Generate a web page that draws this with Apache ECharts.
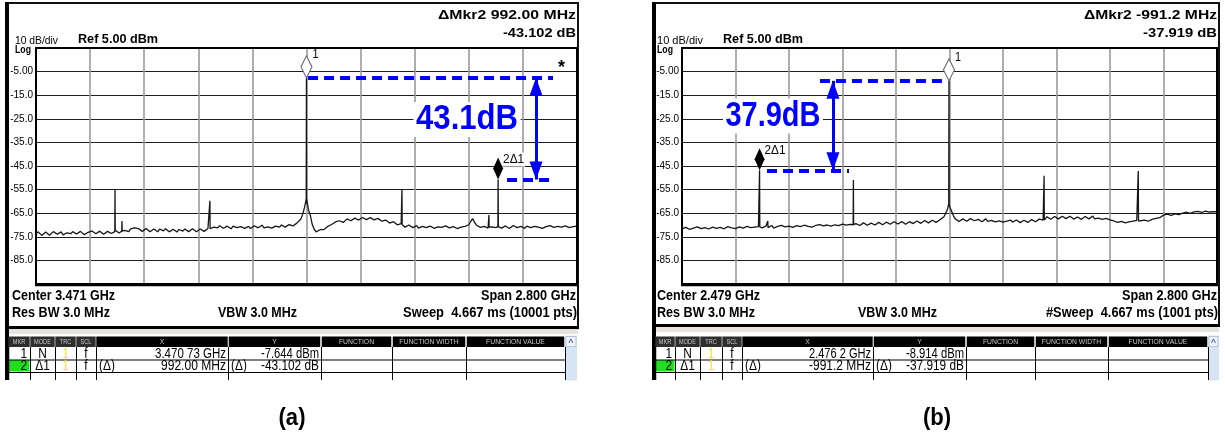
<!DOCTYPE html>
<html>
<head>
<meta charset="utf-8">
<title>Spectrum analyzer captures</title>
<script src="https://cdn.jsdelivr.net/npm/echarts@6/dist/echarts.min.js"></script>
<style>
html,body{margin:0;padding:0;background:#fff;}
#chart{width:1225px;height:447px;}
</style>
</head>
<body>
<div id="chart"></div>
<script>
// ---------- instrument settings ----------
const REF_LEVEL = 5;          // dBm, top graticule line
const SPAN_GHZ = 2.8;
const STEP_GHZ = 0.01;        // spacing of the sampled noise floor

// ---------- trace (a): center 3.471 GHz ----------
const centerA = 3.471;
const floorA = [
  -73.8,-72.9,-73.2,-74.4,-74.1,-73.0,-73.5,-74.3,-73.9,-72.8,-73.0,-73.9,-73.6,-72.9,-74.2,-73.4,-73.3,-74.0,-73.7,-72.8,
  -72.9,-73.8,-73.6,-72.7,-73.2,-74.1,-74.0,-73.1,-73.4,-72.5,-72.8,-73.7,-73.5,-72.6,-73.1,-73.9,-73.8,-72.7,-72.9,-73.6,
  -73.3,-72.2,-72.6,-73.4,-73.1,-72.0,-72.3,-73.0,-72.8,-71.6,-72.1,-71.2,-70.6,-71.5,-71.8,-72.7,-72.4,-71.5,-72.0,-72.9,
  -72.6,-71.7,-72.2,-72.9,-71.7,-72.4,-72.5,-71.6,-72.0,-72.9,-72.8,-71.8,-72.3,-73.0,-71.9,-72.5,-72.6,-71.7,-72.1,-72.8,
  -72.4,-71.6,-72.3,-72.9,-72.6,-71.7,-72.0,-72.7,-72.4,-71.5,-71.8,-71.0,-70.9,-71.7,-71.2,-70.3,-70.6,-71.4,-71.3,-70.5,
  -70.9,-71.6,-70.5,-70.1,-71.1,-71.7,-70.7,-70.2,-71.4,-70.8,-70.6,-71.5,-71.0,-70.3,-70.4,-71.2,-70.9,-70.1,-71.2,-70.6,
  -70.8,-70.2,-71.3,-70.6,-70.5,-71.2,-70.9,-70.0,-70.2,-70.9,-70.7,-69.8,-70.1,-70.4,-69.6,-69.2,-68.8,-67.6,-65.5,-62.5,
  -61.0,-63.5,-66.0,-69.8,-71.8,-72.9,-72.6,-72.0,-72.3,-71.9,-71.4,-70.6,-70.3,-69.8,-69.6,-68.7,-68.9,-68.2,-68.4,-68.9,
  -68.1,-67.4,-67.6,-68.2,-67.9,-67.1,-67.3,-67.9,-67.6,-66.8,-67.0,-67.7,-67.4,-66.9,-67.1,-67.8,-67.6,-67.2,-67.8,-68.4,
  -68.3,-67.9,-68.6,-69.2,-69.0,-68.6,-69.4,-69.9,-69.7,-69.4,-70.3,-70.9,-70.6,-70.0,-70.4,-71.1,-70.9,-70.3,-71.3,-70.7,
  -70.6,-71.4,-71.1,-70.4,-70.5,-71.2,-71.4,-70.6,-70.8,-71.6,-71.0,-70.3,-70.4,-71.1,-71.2,-70.5,-70.7,-71.3,-71.5,-70.8,
  -70.9,-71.5,-70.6,-70.2,-69.9,-68.5,-67.3,-68.9,-70.1,-70.8,-71.0,-70.3,-70.6,-71.4,-71.3,-70.5,-70.8,-71.5,-71.1,-70.4,
  -70.5,-71.3,-71.2,-70.4,-70.7,-71.5,-71.0,-70.2,-70.4,-71.1,-71.3,-70.6,-70.8,-71.4,-70.5,-70.1,-71.1,-71.6,-70.6,-70.2,
  -70.9,-70.3,-71.4,-70.8,-70.7,-70.1,-70.3,-71.1,-71.0,-70.4,-70.6,-71.3,-70.9,-70.2,-70.4,-71.0,-71.1,-70.5,-70.7,-71.2,
  -70.5
];
// discrete tones: [frequency GHz, peak dBm, base dBm]
const spikesA = [
  [2.480, -54.7, -72.8],
  [2.516, -68.3, -72.6],
  [2.971, -59.7, -71.6],
  [3.47073, -7.644, -59.0],
  [3.965, -54.9, -69.9],
  [4.415, -65.8, -70.9],
  [4.46273, -50.746, -70.7]
];
const markerA = [3.47073, -7.644];       // marker 1: freq GHz, level dBm
const deltaA = [0.992, -43.102];         // marker 2 relative to marker 1
const dashA = [[3.479, 4.747], [4.509, 4.757]];   // level guides at marker 1 / marker 2
const arrowA = 4.659;
const noteA = ['43.1dB', 4.302, -25.3];

// ---------- trace (b): center 2.479 GHz ----------
const centerB = 2.479;
const floorB = [
  -71.6,-70.9,-71.0,-71.8,-71.9,-71.1,-71.3,-70.6,-70.8,-71.6,-71.5,-70.8,-71.1,-71.9,-71.7,-70.9,-70.9,-71.7,-71.4,-70.7,
  -71.0,-71.8,-71.6,-70.8,-70.7,-71.5,-71.2,-70.5,-71.5,-71.0,-70.8,-71.6,-71.3,-70.5,-70.6,-71.4,-71.1,-70.4,-70.9,-71.5,
  -70.7,-70.1,-71.2,-70.6,-70.4,-71.1,-70.9,-70.2,-71.3,-70.8,-70.6,-69.9,-70.2,-71.0,-70.8,-70.1,-70.5,-71.2,-71.0,-70.3,
  -70.3,-71.0,-70.7,-69.9,-70.1,-70.8,-70.6,-69.8,-70.9,-70.3,-70.2,-69.6,-69.8,-70.6,-70.4,-69.7,-70.0,-70.8,-70.5,-69.8,
  -69.9,-70.6,-70.3,-69.5,-69.6,-70.4,-70.1,-69.3,-69.7,-70.5,-70.2,-69.4,-69.5,-70.2,-69.9,-69.1,-69.4,-70.1,-69.8,-69.2,
  -69.3,-70.0,-69.7,-68.9,-69.1,-69.9,-69.6,-68.8,-69.0,-69.7,-69.4,-68.6,-68.8,-69.6,-69.3,-68.5,-68.9,-69.7,-69.2,-68.6,
  -68.7,-69.4,-69.1,-68.3,-68.6,-69.3,-68.9,-68.1,-68.4,-69.1,-68.8,-68.0,-68.5,-68.9,-68.2,-67.8,-67.5,-66.6,-65.0,-63.2,
  -62.0,-64.0,-66.0,-67.4,-67.8,-68.5,-68.2,-67.4,-67.6,-68.4,-68.0,-67.3,-67.5,-68.2,-68.3,-67.6,-67.8,-68.6,-68.1,-67.4,
  -68.5,-69.2,-68.0,-67.6,-68.7,-69.3,-68.3,-67.7,-68.8,-69.4,-68.4,-67.8,-67.9,-68.8,-68.6,-67.9,-68.2,-69.0,-68.7,-68.0,
  -68.1,-68.9,-68.5,-67.7,-67.9,-68.6,-68.3,-67.5,-67.7,-67.9,-67.2,-66.5,-66.8,-67.6,-67.3,-66.4,-66.6,-67.4,-67.0,-66.3,
  -66.5,-67.3,-67.1,-66.3,-66.7,-67.5,-67.3,-66.6,-66.8,-67.6,-67.2,-66.4,-66.6,-67.4,-67.0,-66.2,-67.4,-68.0,-67.1,-66.5,
  -67.6,-68.3,-67.2,-66.8,-67.8,-68.5,-68.3,-67.6,-68.9,-69.5,-68.5,-67.9,-69.1,-69.6,-68.7,-68.1,-68.4,-69.0,-68.0,-67.5,
  -68.2,-68.8,-67.9,-67.3,-68.4,-68.9,-67.6,-67.0,-67.2,-67.8,-66.9,-66.3,-65.8,-66.4,-65.4,-64.9,-65.9,-66.3,-65.3,-64.8,
  -65.6,-64.9,-65.0,-65.6,-64.6,-64.1,-65.1,-64.7,-64.4,-63.9,-64.2,-64.8,-64.7,-64.0,-64.1,-64.6,-64.5,-63.8,-64.3,-64.9,
  -64.4
];
const spikesB = [
  [1.4850, -46.833, -70.8],
  [1.528, -68.3, -70.6],
  [1.976, -50.9, -69.9],
  [2.4762, -8.914, -61.0],
  [2.974, -49.1, -67.9],
  [3.467, -47.1, -68.3]
];
const markerB = [2.4762, -8.914];
const deltaB = [-0.9912, -37.919];
const dashB = [[1.801, 2.471], [1.524, 1.953]];
const arrowB = 1.869;
const noteB = ['37.9dB', 1.555, -23.8];

// ---------- helpers ----------
const FONT = '"Liberation Sans", Arial, sans-serif';
const BLUE = '#0000ff';

function buildTrace(floor, center, spikes) {
  const start = center - SPAN_GHZ / 2;
  const pts = floor.map((v, i) => [start + i * STEP_GHZ, v]);
  spikes.forEach(([f, peak, base]) => {
    pts.push([f - 0.0012, base], [f, peak], [f + 0.0012, base]);
  });
  pts.sort((a, b) => a[0] - b[0]);
  return pts.map(([f, v]) => [(f - center) * 1000, v - REF_LEVEL]);
}
const toX = (f, c) => (f - c) * 1000;
const toY = v => v - REF_LEVEL;

function annotations(center, marker, delta, dash, arrowF) {
  const y1 = toY(marker[1]);
  const y2 = toY(marker[1] + delta[1]);
  const dashStyle = { color: BLUE, width: 4, type: [10, 6], cap: 'butt' };
  const arrowEnd = { symbol: 'triangle', symbolSize: [13, 18], symbolOffset: [0, '50%'] };
  return {
    silent: true,
    animation: false,
    label: { show: false },
    symbol: ['none', 'none'],
    data: [
      [{ coord: [toX(dash[0][0], center), y1], lineStyle: dashStyle }, { coord: [toX(dash[0][1], center), y1] }],
      [{ coord: [toX(dash[1][0], center), y2], lineStyle: dashStyle }, { coord: [toX(dash[1][1], center), y2] }],
      [Object.assign({ coord: [toX(arrowF, center), y1], lineStyle: { color: BLUE, width: 3, type: 'solid' } }, arrowEnd),
       Object.assign({ coord: [toX(arrowF, center), y2] }, arrowEnd)]
    ]
  };
}
function markers(center, marker, delta) {
  return {
    silent: true,
    animation: false,
    label: { show: false },
    data: [
      { coord: [toX(marker[0], center), toY(marker[1])], symbol: 'diamond', symbolSize: [11, 22],
        symbolOffset: [0, '-50%'], itemStyle: { color: '#fff', borderColor: '#6a6a6a', borderWidth: 1.2 } },
      { coord: [toX(marker[0] + delta[0], center), toY(marker[1] + delta[1])], symbol: 'diamond', symbolSize: [10, 22],
        symbolOffset: [0, '-50%'], itemStyle: { color: '#000' } }
    ]
  };
}

const grids = [
  { left: 36, top: 48, width: 541, height: 236 },
  { left: 682, top: 48, width: 535, height: 236 }
];

function xAxis(i) {
  return {
    type: 'value', gridIndex: i, min: -1400, max: 1400, interval: 280,
    axisLine: { show: false }, axisTick: { show: false }, axisLabel: { show: false },
    splitLine: { show: true, lineStyle: { color: '#9a9a9a', width: 1.6 } }
  };
}
function yAxis(i) {
  return {
    type: 'value', gridIndex: i, min: -100, max: 0, interval: 10,
    axisLine: { show: false }, axisTick: { show: false },
    axisLabel: {
      show: true, margin: 3, color: '#000', fontSize: 10, fontFamily: FONT,
      formatter: v => {
        const d = Math.round(v + REF_LEVEL);
        if (d > 0 || d < -90) return '';
        return d === -5 ? '-5.00' : d.toFixed(1);
      }
    },
    splitLine: { show: true, lineStyle: { color: '#1e1e1e', width: 1 } }
  };
}

const chart = echarts.init(document.getElementById('chart'), null, { renderer: 'canvas' });
chart.setOption({
  backgroundColor: '#fff',
  animation: false,
  grid: grids,
  xAxis: [xAxis(0), xAxis(1)],
  yAxis: [yAxis(0), yAxis(1)],
  series: [
    {
      type: 'line', xAxisIndex: 0, yAxisIndex: 0, data: buildTrace(floorA, centerA, spikesA),
      symbol: 'none', lineStyle: { color: '#161616', width: 1.3 }, z: 3,
      markLine: annotations(centerA, markerA, deltaA, dashA, arrowA),
      markPoint: markers(centerA, markerA, deltaA)
    },
    {
      type: 'line', xAxisIndex: 1, yAxisIndex: 1, data: buildTrace(floorB, centerB, spikesB),
      symbol: 'none', lineStyle: { color: '#161616', width: 1.3 }, z: 3,
      markLine: annotations(centerB, markerB, deltaB, dashB, arrowB),
      markPoint: markers(centerB, markerB, deltaB)
    }
  ]
});

// ---------- screen furniture: text, frames, marker table ----------
const mctx = document.createElement('canvas').getContext('2d');
function T(text, x, y, o) {
  o = o || {};
  const font = (o.bold ? 'bold ' : '') + (o.size || 12) + 'px ' + FONT;
  let sx = o.sx || 1;
  if (o.w) { mctx.font = font; sx = o.w / mctx.measureText(text).width; }
  const align = o.align || 'left';
  const style = { text, font, fill: o.color || '#000', align, verticalAlign: 'middle',
                  textAlign: align, textVerticalAlign: 'middle' };
  if (o.bg) { style.backgroundColor = o.bg; style.padding = o.pad || [0, 2]; }
  return { type: 'text', x, y, scaleX: sx, z: o.z || 60, silent: true, style };
}
function R(x, y, w, h, fill, stroke, lw, z) {
  return { type: 'rect', shape: { x, y, width: w, height: h }, z: z || 40, silent: true,
           style: { fill: fill || 'none', stroke: stroke || null, lineWidth: lw || 1 } };
}
function L(x1, y1, x2, y2, color, lw, z) {
  return { type: 'line', shape: { x1, y1, x2, y2 }, z: z || 45, silent: true,
           style: { stroke: color || '#000', lineWidth: lw || 1 } };
}

function panel(p) {
  const g = [];
  // outer screen frame
  g.push(R(p.fl, 3, p.fr - p.fl, p.fb - 3, null, '#111', 2, 40));
  g.push(R(p.fl - 1, 2, 4, 378, '#000', null, 1, 41));
  g.push(R(p.fl, p.fb - 1, p.fr - p.fl + 1, 3, '#000', null, 1, 41));
  g.push(R(p.fl + 3, p.fb + 2, p.fr - p.fl - 3, 5, '#e6e3dc', null, 1, 41));
  // plot border
  g.push(R(p.gl, 48, p.gw, 236, null, '#000', 2, 50));
  g.push(L(p.gl - 1, 285, p.gl + p.gw + 1, 285, '#000', 2.5, 51));
  // header texts
  g.push(T(p.mk1, p.fr - 2, 15, { size: 13, bold: true, w: p.mk1w, align: 'right' }));
  g.push(T(p.mk2, p.fr - 2, 33, { size: 13, bold: true, w: p.mk2w, align: 'right' }));
  g.push(T('10 dB/div', p.tl, 41, { size: 11, w: p.divw }));
  g.push(T('Log', p.tl, 49.5, { size: 11, bold: true, w: 16 }));
  g.push(T('Ref 5.00 dBm', p.refx, 39, { size: 13, bold: true, w: 80 }));
  // footer texts
  g.push(T(p.center, p.cl, 296, { size: 14, bold: true, w: 103 }));
  g.push(T('Res BW 3.0 MHz', p.cl, 313, { size: 14, bold: true, w: 98 }));
  g.push(T('VBW 3.0 MHz', p.vbwr, 313, { size: 14, bold: true, w: 79, align: 'right' }));
  g.push(T('Span 2.800 GHz', p.fr - 2, 296, { size: 14, bold: true, w: 95, align: 'right' }));
  g.push(T(p.sweep, p.fr - 1, 313, { size: 14, bold: true, w: p.sweepw, align: 'right' }));
  // marker table
  const E = p.cols, top = 336.5, hh = 10.5, rh = 12.5;
  const heads = ['MKR', 'MODE', 'TRC', 'SCL', 'X', 'Y', 'FUNCTION', 'FUNCTION WIDTH', 'FUNCTION VALUE'];
  for (let i = 0; i < 9; i++) {
    const gap = i >= 5 ? 1.5 : 0.6;
    g.push(R(E[i] + gap / 2, top, E[i + 1] - E[i] - gap, hh, i < 4 ? '#2e2e2e' : '#000', null, 1, 42));
    g.push(T(heads[i], (E[i] + E[i + 1]) / 2, top + hh / 2 + 0.5,
      { size: i < 4 ? 7 : 8, color: '#c8c8c8', align: 'center', sx: i < 4 ? 0.8 : 0.85, z: 43 }));
  }
  // scroll bar
  g.push(R(E[9], top - 1, E[10] - E[9], 45, '#d7e4f4', null, 1, 42));
  g.push(R(E[9] + 1, top, E[10] - E[9] - 2, 10, '#eef3fa', '#aabbd4', 0.8, 43));
  g.push(T('^', (E[9] + E[10]) / 2, top + 6, { size: 9, bold: true, color: '#4a6aa0', align: 'center', z: 44 }));
  // rows
  const r1 = top + hh, r2 = r1 + rh, r3 = r2 + rh;
  g.push(R(E[0] + 0.5, r2 + 0.5, E[1] - E[0] - 1, rh - 1, '#22dd22', null, 1, 42));
  [r1 + rh, r2 + rh].forEach(y => g.push(L(E[0], y + 0.5, E[9], y + 0.5, '#000', 1, 44)));
  E.slice(0, 10).forEach((x, i) => g.push(L(x + 0.5, r1, x + 0.5, 380, '#000', i === 0 ? 1.5 : 1, 44)));
  const rows = [
    ['1', 'N', '1', 'f', '', p.x1, '', p.y1],
    ['2', '\u03941', '1', 'f', '(\u0394)', p.x2, '(\u0394)', p.y2]
  ];
  rows.forEach((r, k) => {
    const yc = (k === 0 ? r1 : r2) + rh / 2 + 0.5;
    g.push(T(r[0], E[1] - 3, yc, { size: 14, align: 'right', sx: 0.85 }));
    g.push(T(r[1], (E[1] + E[2]) / 2, yc, { size: 14, align: 'center', sx: 0.85 }));
    g.push(T(r[2], (E[2] + E[3]) / 2, yc, { size: 14, align: 'center', sx: 0.85, color: '#f2dc3a' }));
    g.push(T(r[3], (E[3] + E[4]) / 2, yc, { size: 14, align: 'center', sx: 0.85 }));
    if (r[4]) g.push(T(r[4], E[4] + 3, yc, { size: 14, sx: 0.85 }));
    g.push(T(r[5], E[5] - 2, yc, { size: 14, align: 'right', w: p.xw[k] }));
    if (r[6]) g.push(T(r[6], E[5] + 3, yc, { size: 14, sx: 0.85 }));
    g.push(T(r[7], E[6] - 2, yc, { size: 14, align: 'right', w: p.yw[k] }));
  });
  // panel caption
  g.push(T(p.cap, p.capx, 418, { size: 24, bold: true, align: 'center', sx: 0.92 }));
  return g;
}

const graphics = [].concat(
  panel({
    fl: 6, fr: 578, fb: 327, gl: 36, gw: 541, tl: 15, cl: 12, refx: 78, divw: 43,
    mk1: '\u0394Mkr2 992.00 MHz', mk1w: 138, mk2: '-43.102 dB', mk2w: 73,
    center: 'Center 3.471 GHz', vbwr: 297, sweep: 'Sweep  4.667 ms (10001 pts)', sweepw: 174,
    cols: [8, 30, 55, 76, 96, 228, 321, 392, 466, 565, 577],
    x1: '3.470 73 GHz', x2: '992.00 MHz', xw: [71, 65], y1: '-7.644 dBm', y2: '-43.102 dB', yw: [58, 58],
    cap: '(a)', capx: 292
  }),
  panel({
    fl: 653, fr: 1219, fb: 325, gl: 682, gw: 535, tl: 657, cl: 657, refx: 723, divw: 46,
    mk1: '\u0394Mkr2 -991.2 MHz', mk1w: 133, mk2: '-37.919 dB', mk2w: 74,
    center: 'Center 2.479 GHz', vbwr: 937, sweep: '#Sweep  4.667 ms (1001 pts)', sweepw: 172,
    cols: [655, 675, 700, 722, 742, 873, 966, 1035, 1108, 1208, 1219],
    x1: '2.476 2 GHz', x2: '-991.2 MHz', xw: [62, 62], y1: '-8.914 dBm', y2: '-37.919 dB', yw: [58, 58],
    cap: '(b)', capx: 937
  })
);

// labels tied to the data: marker tags and the level-difference notes
function tags(gi, center, marker, delta, note, noteW) {
  const p1 = chart.convertToPixel({ gridIndex: gi }, [toX(marker[0], center), toY(marker[1])]);
  const p2 = chart.convertToPixel({ gridIndex: gi }, [toX(marker[0] + delta[0], center), toY(marker[1] + delta[1])]);
  const pn = chart.convertToPixel({ gridIndex: gi }, [toX(note[1], center), toY(note[2])]);
  return [
    T('1', p1[0] + 6, p1[1] - 23, { size: 12, sx: 0.9 }),
    T('2\u03941', p2[0] + 4, p2[1] - 20, { size: 12, w: 21, bg: '#fff', pad: [1, 1] }),
    T(note[0], pn[0], pn[1], { size: 35, bold: true, color: BLUE, align: 'center', w: noteW, bg: '#fff', pad: [0, 3] })
  ];
}
graphics.push(...tags(0, centerA, markerA, deltaA, noteA, 102));
graphics.push(...tags(1, centerB, markerB, deltaB, noteB, 95));
graphics.push(T('*', 558, 68, { size: 18, bold: true }));

chart.setOption({ graphic: { elements: graphics } });
</script>
</body>
</html>
